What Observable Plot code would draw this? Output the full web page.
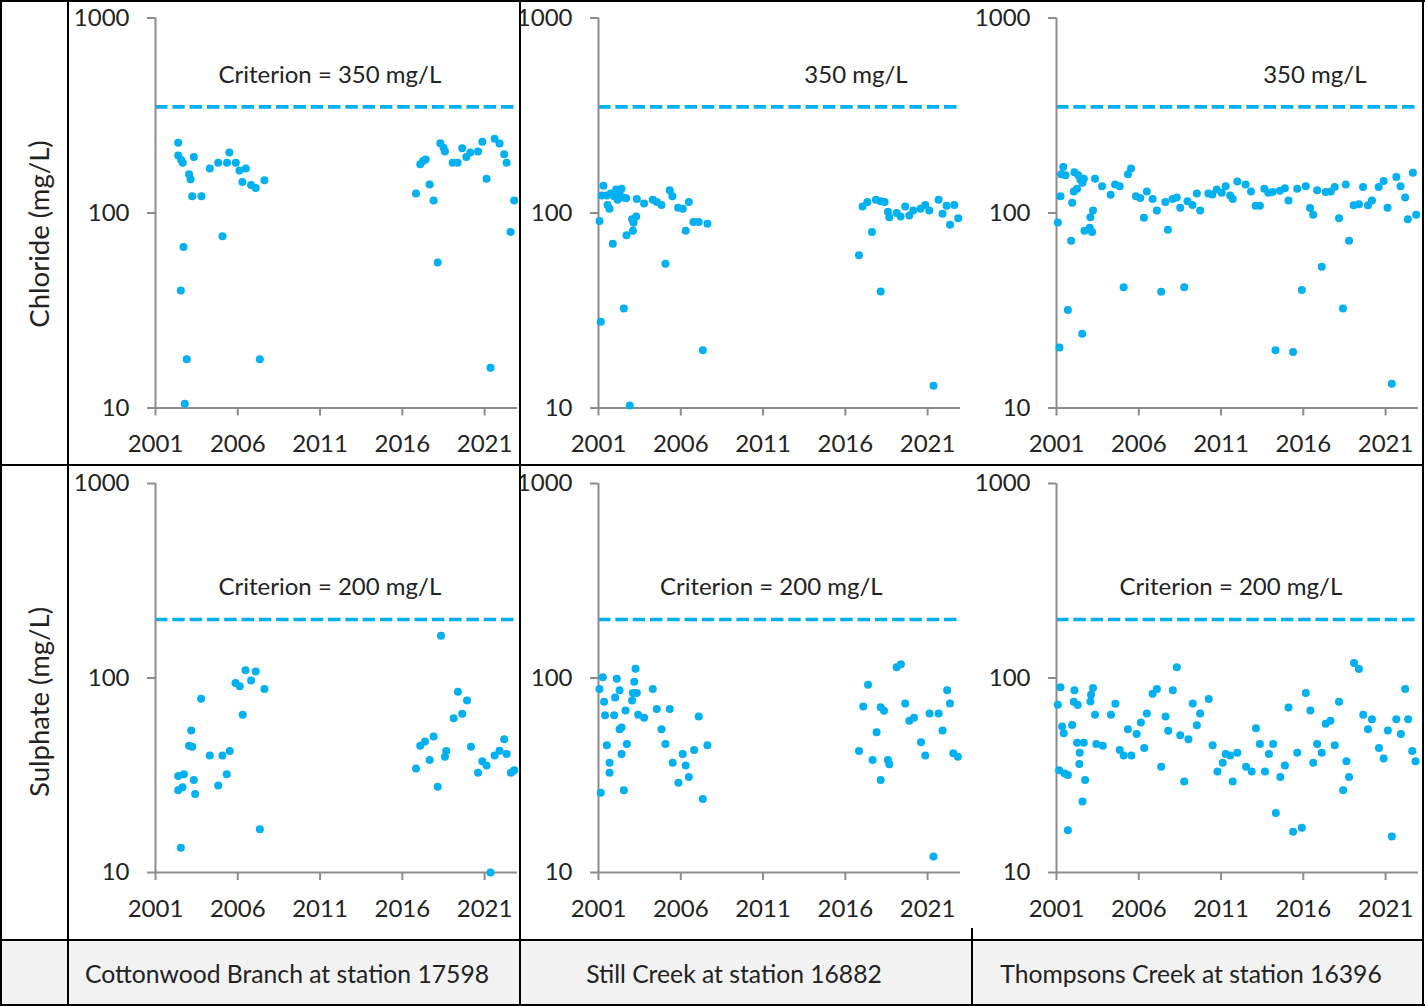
<!DOCTYPE html>
<html>
<head>
<meta charset="utf-8">
<script src="https://cdn.jsdelivr.net/npm/d3@7"></script>
<script src="https://cdn.jsdelivr.net/npm/@observablehq/plot@0.6"></script>
<style>
  html, body { margin: 0; padding: 0; background: #fff; }
  #wrap { position: relative; width: 1425px; height: 1006px; font-family: Lato, "Open Sans", sans-serif; color: #222; }
  .abs { position: absolute; }
  .line { position: absolute; background: #000; }
  .ytitle { position: absolute; white-space: nowrap; font-size: 27.5px; transform: translate(-50%, -50%) rotate(-90deg); }
  .station { position: absolute; display: flex; align-items: center; justify-content: center; font-size: 24.7px; white-space: nowrap; }
  svg { overflow: visible; }
</style>
</head>
<body>
<div id="wrap"></div>
<script>
// ---------------- data ----------------
const xTicks = [2001, 2006, 2011, 2016, 2021];
const yTicks = [10, 100, 1000];
const parameterTitles = ["Chloride (mg/L)", "Sulphate (mg/L)"];
const stationNames = ["Cottonwood Branch at station 17598", "Still Creek at station 16882", "Thompsons Creek at station 16396"];
const chlorideCriterion = 350;
const sulphateCriterion = 200;
const chlorideLabels = ["Criterion = 350 mg/L", "350 mg/L", "350 mg/L"];
const sulphateLabels = ["Criterion = 200 mg/L", "Criterion = 200 mg/L", "Criterion = 200 mg/L"];

// Chloride – Cottonwood Branch 17598
const clCottonwoodYears = [2002.38,2002.38,2002.56,2002.66,2003.33,2003.04,2003.13,2003.23,2003.79,2004.30,2004.81,2005.35,2005.49,2005.88,2006.10,2006.49,2006.28,2006.81,2007.09,2007.62,2002.70,2005.07,2002.54,2002.90,2007.34,2002.78,
  2016.83,2017.09,2017.26,2017.42,2017.66,2017.90,2018.15,2018.31,2018.51,2018.59,2019.06,2019.36,2019.64,2019.89,2020.13,2020.60,2020.86,2021.12,2021.36,2021.61,2021.91,2022.19,2022.34,2022.80,2022.58];
const clCottonwoodValues = [229,197,187,181,194,158,149,122,122,169,181,181,204,181,165,169,144,139,134.5,147,67,76,40,17.8,17.8,10.5,
  126,178,185,188,140,116,55.7,228,216,207,181,181,215,194,204,207,232,150,16.1,240,227,200,181,116,80];

// Chloride – Still Creek 16882
const clStillYears = [2001.06,2001.14,2001.30,2001.20,2001.50,2001.55,2001.67,2001.75,2001.87,2001.95,2002.07,2002.15,2002.28,2002.40,2002.48,2002.68,2002.54,2002.70,2002.90,2003.09,2003.13,2003.04,2003.29,2003.33,2003.77,2004.30,2004.54,2004.83,2005.07,2005.33,2005.49,2005.84,2006.12,2006.49,2006.30,2006.77,2007.09,2007.34,2007.62,
  2016.83,2017.05,2017.34,2017.62,2017.86,2018.15,2018.15,2018.39,2018.59,2018.67,2019.12,2019.36,2019.64,2019.89,2020.13,2020.57,2020.86,2021.10,2021.36,2021.67,2021.91,2022.15,2022.36,2022.62,2022.86];
const clStillValues = [91,27.7,138,123,123,110,105,126,69.5,122,132,117,127,133,120,119,32.4,77,10.3,81,89,93,96,118,112,117,114,110,55,131,122,106.5,105,114,81,90,90,19.8,88,
  60.7,108,114,80,117,39.6,115,114,101.6,95,100,96,108,97,103,105,110,103,13,117,99,109,87,110,94];

// Chloride – Thompsons Creek 16396
const clThompsonsYears = [2001.08,2001.18,2001.24,2001.41,2001.28,2001.55,2001.69,2001.89,2001.95,2002.05,2002.09,2002.25,2002.33,2002.45,2002.56,2002.58,2002.66,2002.70,2003.02,2003.16,2003.06,2003.22,2003.34,2003.77,2004.29,2004.56,2004.84,2005.08,2005.34,2005.53,2005.83,2006.09,2006.49,2006.31,2006.84,2007.10,2007.36,2007.61,2007.77,2008.05,2008.31,2008.52,2008.76,2008.96,2009.26,2009.53,2009.73,2010.23,2010.47,2010.74,2011.04,2011.28,2011.55,2011.71,2011.99,2012.49,2012.82,2013.10,2013.36,2013.63,2013.87,2014.13,2014.31,2014.58,2014.88,2015.10,2015.38,2015.63,2015.91,2016.15,2016.41,2016.60,2016.84,2017.12,2017.36,2017.67,2017.91,2018.17,2018.41,2018.58,2018.78,2019.06,2019.38,2019.63,2019.93,2020.17,2020.58,2020.88,2021.12,2021.38,2021.65,2021.91,2022.19,2022.35,2022.66,2022.86];
const clThompsonsValues = [89.5,20.4,122,172,158,156,31.8,72,113,129,162,133,156,148.5,24,143,150,81,84,80,95,103,150,137,124,140,137,41.6,158,169,122,119.5,129,94.6,118,103,39.5,114,82,118,120,106.5,41.6,115,110,126,103,126,124.5,132,127,137,123,118,145,140,129,109,109,133,127,128,19.8,130,134,116,19.4,133,40.3,137,106,98,131,53,128,129,136,94,32.4,140,72,109.5,111,136,109.5,116,136,146,106.5,13.3,153,137,120,93,161,98];

// Sulphate – Cottonwood Branch 17598
const so4CottonwoodYears = [2002.38,2002.72,2002.38,2002.64,2002.54,2003.17,2003.04,2003.23,2003.33,2003.41,2003.77,2004.30,2004.81,2005.07,2005.33,2005.51,2005.86,2006.12,2006.30,2006.47,2006.81,2007.09,2007.34,2007.62,
  2016.83,2017.09,2017.38,2017.66,2017.90,2018.15,2018.35,2018.59,2018.67,2019.12,2019.38,2019.64,2019.93,2020.17,2020.60,2020.86,2021.12,2021.36,2021.61,2021.91,2022.19,2022.34,2022.60,2022.80];
const so4CottonwoodValues = [31.3,32,26.5,27.4,13.4,53.7,44.9,44.3,29.9,25.3,78.2,40,28,40,32,42.2,94.2,90.6,64.7,109.5,97,108,16.7,87.7,
  34.3,44.9,47.1,37.9,50,27.6,165,39.4,42.2,62.1,85,65.4,76.7,44.3,32.6,37.3,35.5,10,39.9,42.3,48.4,40.7,32.6,33.6];

// Sulphate – Still Creek 16882
const so4StillYears = [2001.06,2001.26,2001.14,2001.34,2001.40,2001.51,2001.67,2001.67,2001.95,2002.01,2002.11,2002.28,2002.28,2002.40,2002.40,2002.54,2002.64,2002.72,2003.04,2003.09,2003.17,2003.25,2003.33,2003.41,2003.77,2004.30,2004.54,2004.83,2005.07,2005.33,2005.51,2005.86,2006.12,2006.30,2006.49,2006.81,2007.09,2007.34,2007.62,
  2016.83,2017.09,2017.38,2017.66,2017.90,2018.15,2018.15,2018.35,2018.59,2018.67,2019.12,2019.38,2019.64,2019.89,2020.17,2020.60,2020.86,2021.12,2021.36,2021.67,2021.91,2022.19,2022.36,2022.56,2022.84];
const so4StillValues = [87.7,100.8,25.7,75.5,64.4,45.1,36.7,32.6,64.4,79.5,99.2,86.4,54.5,55.6,40.7,26.5,68.1,45.8,76.7,83.7,95.7,111.7,83.7,64.7,62.4,87.7,69.2,54.5,45.8,69.2,36.7,28.9,40.7,35.5,31,42.7,63.4,23.9,45.1,
  42.2,71.4,92.4,37.9,52.6,29.9,70.8,67.8,37.9,36,113.5,117.6,74,60.2,62.4,46.7,40,65.7,12.1,65.7,53.7,86.4,74,41,39.4];

// Sulphate – Thompsons Creek 16396
const so4ThompsonsYears = [2001.08,2001.24,2001.34,2001.44,2001.16,2001.49,2001.69,2001.69,2001.95,2002.05,2002.09,2002.29,2002.25,2002.41,2002.39,2002.58,2002.66,2002.74,2003.06,2003.10,2003.22,2003.34,2003.42,2003.81,2004.31,2004.58,2004.84,2005.08,2005.34,2005.55,2005.87,2006.13,2006.33,2006.49,2006.84,2007.10,2007.36,2007.63,2007.79,2008.07,2008.31,2008.52,2008.76,2009.02,2009.28,2009.53,2009.73,2010.25,2010.49,2010.78,2011.10,2011.28,2011.55,2011.71,2011.99,2012.52,2012.86,2013.12,2013.36,2013.67,2013.91,2014.17,2014.33,2014.60,2014.88,2015.10,2015.38,2015.63,2015.91,2016.15,2016.43,2016.60,2016.84,2017.12,2017.36,2017.65,2017.91,2018.17,2018.42,2018.62,2018.78,2019.08,2019.38,2019.64,2019.93,2020.17,2020.60,2020.88,2021.14,2021.38,2021.65,2021.93,2022.19,2022.37,2022.62,2022.82];
const so4ThompsonsValues = [72.8,89.5,56.3,52,33.6,32.3,31.7,16.5,57.4,75.5,86.4,72.6,46.5,41.3,36.1,23.2,46.5,29.9,75.8,82,88.8,64.7,45.8,44.9,64.7,73.7,42.7,40,54.5,40,51.6,59,43.7,65.7,83,87.7,35,63.4,53.5,86.4,113.5,50.8,29.4,48.4,74,57.2,65.7,77.9,45.1,33.1,36.7,40.7,40,29.4,41.3,35,33.1,55.2,45.8,33.1,40.7,45.8,20.2,31,35.5,70.6,16.2,41.3,17,83.7,68.1,36.7,45.8,41.3,58.1,60.2,45.1,75.5,26.5,37.3,31,119.5,111.3,64.7,54.5,61.4,43.7,38.6,53.7,15.3,61.4,51.6,87.7,61.4,42.2,37.3];

// ---------------- layout & style ----------------
const BLUE = "#00b0f0";
const AXIS = "#8c8c8c";
const TEXT = "#222";
const FONT = "Lato, 'Open Sans', sans-serif";

const cols = [ // cell left, width, plot margins, label shift
  {left: 68,  width: 452, mL: 87, mR: 3,  shift: -7},
  {left: 520, width: 452, mL: 78, mR: 12, shift: -12},
  {left: 972, width: 452, mL: 84, mR: 6,  shift: -7}
];
const rows = [
  {top: 0,   height: 465, mT: 17.5, mB: 57.5, crit: chlorideCriterion, labels: chlorideLabels, labelYears: [2011.6, 2016.65, 2016.7], labelValue: 508},
  {top: 465, height: 475, mT: 18,   mB: 68,   crit: sulphateCriterion, labels: sulphateLabels, labelYears: [2011.6, 2011.5, 2011.6], labelValue: 294}
];
const series = [
  [[clCottonwoodYears, clCottonwoodValues], [clStillYears, clStillValues], [clThompsonsYears, clThompsonsValues]],
  [[so4CottonwoodYears, so4CottonwoodValues], [so4StillYears, so4StillValues], [so4ThompsonsYears, so4ThompsonsValues]]
];

const wrap = document.getElementById("wrap");

function makePanel(r, c) {
  const row = rows[r], col = cols[c];
  const [yrs, vals] = series[r][c];
  const data = yrs.map((x, i) => ({x, y: vals[i]}));
  const svg = Plot.plot({
    width: col.width,
    height: row.height,
    marginLeft: col.mL,
    marginRight: col.mR,
    marginTop: row.mT,
    marginBottom: row.mB,
    style: {background: "transparent", fontFamily: FONT, fontSize: "24px", color: TEXT, overflow: "visible"},
    x: {domain: [2001, 2023]},
    y: {type: "log", domain: [10, 1000]},
    marks: [
      Plot.ruleY([row.crit], {stroke: BLUE, strokeWidth: 3.6, strokeDasharray: "12.5,4.8"}),
      Plot.ruleX([2001], {stroke: AXIS, strokeWidth: 2}),
      Plot.ruleY([10], {stroke: AXIS, strokeWidth: 2}),
      Plot.axisX(xTicks, {anchor: "bottom", tickSize: 8, tickPadding: 19, stroke: AXIS, strokeWidth: 2, fill: TEXT, tickFormat: d => String(d), label: null, fontSize: 24}),
      Plot.axisY(yTicks, {anchor: "left", tickSize: 8, tickPadding: 18, stroke: AXIS, strokeWidth: 2, fill: TEXT, tickFormat: d => String(d), label: null, fontSize: 24}),
      Plot.dot(data, {x: "x", y: "y", r: 4, fill: BLUE, stroke: "none"}),
      Plot.text([row.labels[c]], {x: () => row.labelYears[c], y: () => row.labelValue, text: d => d, fill: TEXT, fontSize: 24})
    ]
  });
  svg.style.position = "absolute";
  svg.style.left = col.left + "px";
  svg.style.top = row.top + "px";
  wrap.appendChild(svg);
}

// bottom label row background
const bg = document.createElement("div");
bg.className = "abs";
Object.assign(bg.style, {left: "0px", top: "940px", width: "1424px", height: "66px", background: "#f2f2f2"});
wrap.appendChild(bg);

for (let r = 0; r < 2; r++) for (let c = 0; c < 3; c++) makePanel(r, c);

// row titles
[234, 702].forEach((cy, i) => {
  const t = document.createElement("div");
  t.className = "ytitle";
  t.textContent = parameterTitles[i];
  t.style.left = "38px";
  t.style.top = cy + "px";
  wrap.appendChild(t);
});

// station names
stationNames.forEach((s, i) => {
  const d = document.createElement("div");
  d.className = "station";
  d.textContent = s;
  Object.assign(d.style, {left: (cols[i].left + cols[i].shift) + "px", width: cols[i].width + "px", top: "941px", height: "64px"});
  wrap.appendChild(d);
});

// table borders
function line(x, y, w, h) {
  const l = document.createElement("div");
  l.className = "line";
  Object.assign(l.style, {left: x + "px", top: y + "px", width: w + "px", height: h + "px"});
  wrap.appendChild(l);
}
line(0, 0, 1425, 2);          // top
line(0, 1004, 1425, 2);       // bottom
line(0, 0, 2, 1006);          // left
line(1422, 0, 2, 1006);       // right
line(67, 0, 2, 1006);         // after title column
line(519, 0, 2, 1006);        // between panel 1 and 2
line(971, 928, 2, 78);        // between panel 2 and 3 (label row)
line(0, 464, 1424, 2);        // between rows
line(0, 939, 1424, 2);        // above label row
</script>
</body>
</html>
